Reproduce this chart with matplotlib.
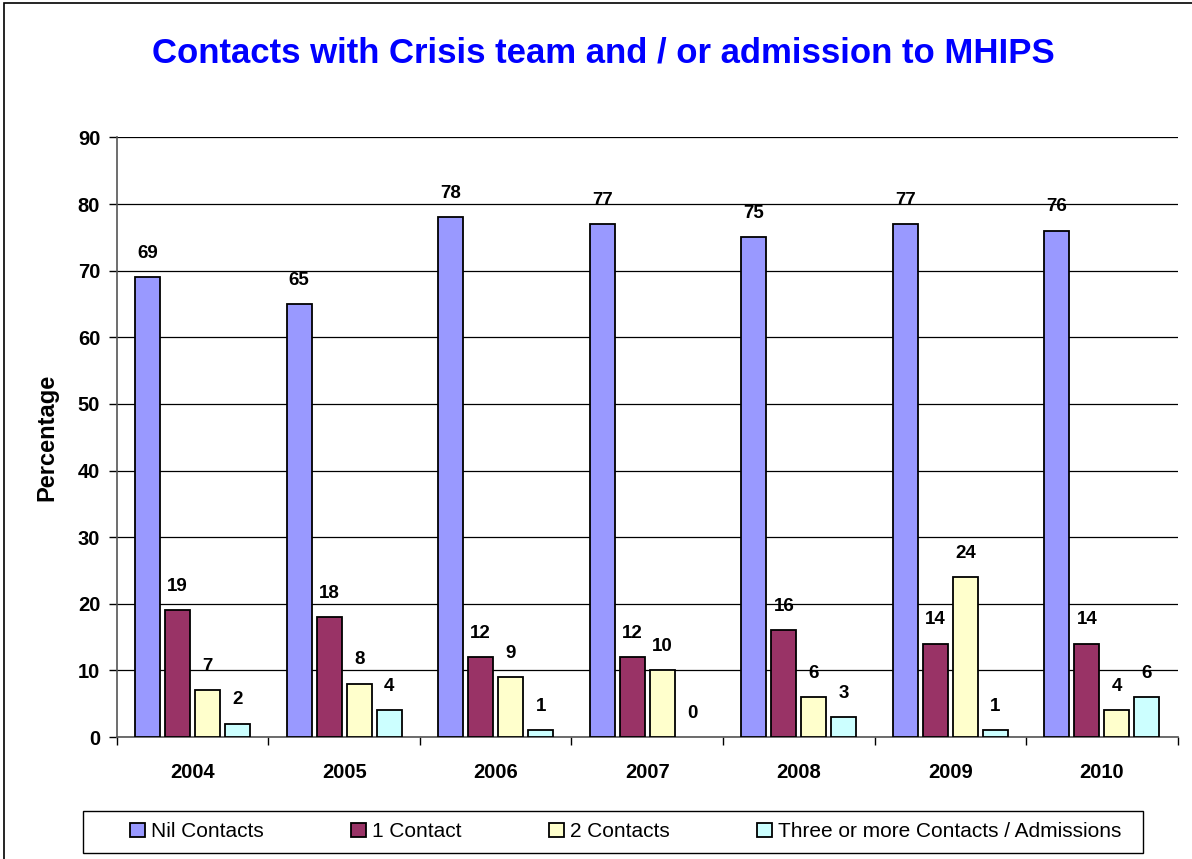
import numpy as np
import matplotlib
matplotlib.use('Agg')
import matplotlib.pyplot as plt
from matplotlib.patches import Rectangle

plt.rcParams['font.family'] = ['Liberation Sans', 'DejaVu Sans']

years = ['2004', '2005', '2006', '2007', '2008', '2009', '2010']
series_names = ['Nil Contacts', '1 Contact', '2 Contacts', 'Three or more Contacts / Admissions']
nil_contacts = [69, 65, 78, 77, 75, 77, 76]
one_contact = [19, 18, 12, 12, 16, 14, 14]
two_contacts = [7, 8, 9, 10, 6, 24, 4]
three_plus = [2, 4, 1, 0, 3, 1, 6]
colors = ['#9999FF', '#993366', '#FFFFCC', '#CCFFFF']

fig = plt.figure(figsize=(11.92, 8.59), dpi=100)
ax = fig.add_axes([0.098, 0.142, 0.890, 0.698])

# border round the chart area
fig.patches.append(Rectangle((0.003, -0.1), 1.2, 1.0965, transform=fig.transFigure,
                             fill=False, edgecolor='black', linewidth=1.2))

x = np.arange(len(years))
step = 0.198
width = 0.165
all_series = [nil_contacts, one_contact, two_contacts, three_plus]
handles = []
for i, (vals, col, name) in enumerate(zip(all_series, colors, series_names)):
    pos = x + (i - 1.5) * step
    bars = ax.bar(pos, vals, width, color=col, edgecolor='black', linewidth=1.3,
                  label=name, zorder=3)
    handles.append(bars)
    for b, v in zip(bars, vals):
        if v == 0:
            b.set_edgecolor('none')
    for p, v in zip(pos, vals):
        ax.annotate(str(v), (p, v), xytext=(0, 11), textcoords='offset points',
                    ha='center', va='bottom', fontsize=13.5, fontweight='bold')

ax.set_ylim(0, 90)
ax.set_xlim(-0.5, len(years) - 0.5)
ax.set_yticks(range(0, 91, 10))
ax.set_yticklabels([str(v) for v in range(0, 91, 10)], fontsize=14.5, fontweight='bold')
ax.yaxis.grid(True, color='black', linewidth=0.9, zorder=0)
ax.set_axisbelow(True)

ax.set_xticks(x)
ax.set_xticklabels(years, fontsize=14.5, fontweight='bold')
ax.set_xticks(np.arange(-0.5, len(years)), minor=True)
ax.tick_params(axis='x', which='major', length=0, pad=19)
ax.tick_params(axis='x', which='minor', length=6, width=1, direction='out')
ax.tick_params(axis='y', length=6, width=1, direction='out', pad=6)

for s in ['top', 'right']:
    ax.spines[s].set_visible(False)
for s in ['left', 'bottom']:
    ax.spines[s].set_color('#555555')
    ax.spines[s].set_linewidth(1.2)

ax.set_ylabel('Percentage', fontsize=17, fontweight='bold', labelpad=14)

fig.text(0.506, 0.938, 'Contacts with Crisis team and / or admission to MHIPS',
         ha='center', va='center', color='#0000FF', fontsize=25, fontweight='bold')

# legend box drawn separately so it spans the full width
fig.patches.append(Rectangle((0.0696, 0.007), 0.889, 0.049, transform=fig.transFigure,
                             fill=False, edgecolor='black', linewidth=1.0))
leg = fig.legend(handles=handles, labels=series_names, loc='center',
                 bbox_to_anchor=(0.525, 0.0315), ncol=4, frameon=False,
                 fontsize=15, handlelength=0.7, handleheight=0.7,
                 handletextpad=0.3, columnspacing=4.2, borderaxespad=0)

fig.savefig('out.png', dpi=100)
